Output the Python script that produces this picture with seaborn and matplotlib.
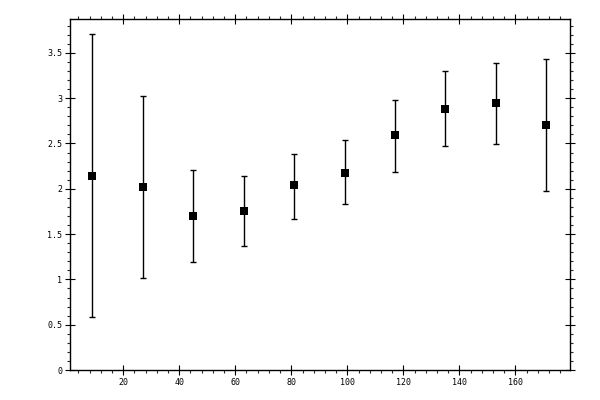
import numpy as np
import pandas as pd
import matplotlib
matplotlib.use("Agg")
import matplotlib.pyplot as plt
from matplotlib.ticker import MultipleLocator
import seaborn as sns

x_vals = [9, 27, 45, 63, 81, 99, 117, 135, 153, 171]
y_vals = [2.146, 2.024, 1.70, 1.759, 2.039, 2.179, 2.588, 2.876, 2.942, 2.699]
y_low = [0.59, 1.01, 1.195, 1.372, 1.670, 1.836, 2.190, 2.467, 2.489, 1.980]
y_high = [3.706, 3.027, 2.212, 2.146, 2.385, 2.533, 2.976, 3.296, 3.385, 3.429]

df = pd.DataFrame({"x": x_vals, "y": y_vals, "lo": y_low, "hi": y_high})

sns.set_style("ticks")
plt.rcParams["font.family"] = ["DejaVu Sans Mono"]

fig = plt.figure(figsize=(6, 4), dpi=100)
ax = fig.add_axes([70 / 600, 30 / 400, 500.3 / 600, 350.7 / 400])

err = np.array([df["y"] - df["lo"], df["hi"] - df["y"]])
ax.errorbar(df["x"], df["y"], yerr=err, fmt="none", ecolor="black",
            elinewidth=1.0, capsize=2.2, capthick=1.0, zorder=2)
sns.scatterplot(data=df, x="x", y="y", marker="s", color="black", s=30,
                edgecolor="black", linewidth=0, ax=ax, zorder=3)

ax.set_xlim(1, 179.6)
ax.set_ylim(0, 3.87)
ax.xaxis.set_major_locator(MultipleLocator(20))
ax.xaxis.set_minor_locator(MultipleLocator(4))
ax.yaxis.set_major_locator(MultipleLocator(0.5))
ax.yaxis.set_minor_locator(MultipleLocator(0.1))
ax.yaxis.set_major_formatter(plt.FuncFormatter(lambda v, p: f"{v:g}"))
ax.xaxis.set_major_formatter(plt.FuncFormatter(lambda v, p: f"{v:g}"))

for s in ax.spines.values():
    s.set_visible(True)
    s.set_linewidth(1.0)
    s.set_color("black")

ax.tick_params(which="major", direction="inout", length=6.5, width=0.8,
               top=True, right=True, labelsize=6, pad=2.5, colors="black")
ax.tick_params(which="minor", direction="out", length=2.5, width=0.8,
               top=True, right=True)
ax.set_xlabel("")
ax.set_ylabel("")

fig.savefig("out.png", dpi=100)
